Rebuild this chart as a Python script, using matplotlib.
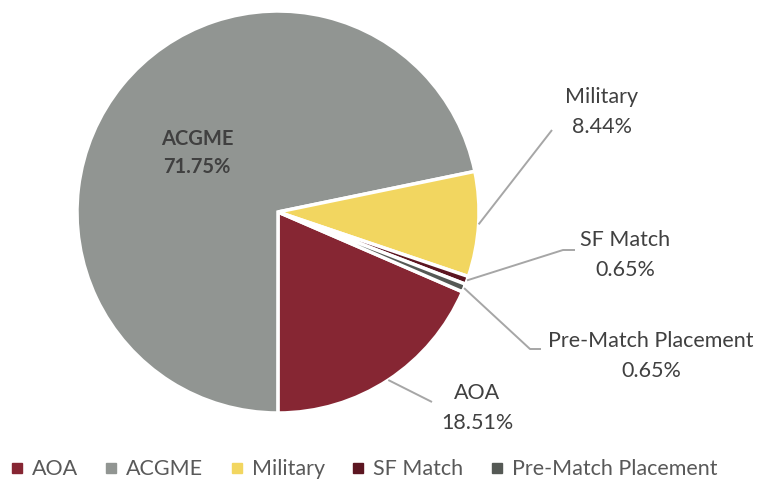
import numpy as np
import matplotlib
matplotlib.use("Agg")
import matplotlib.pyplot as plt

plt.rcParams['font.family'] = ['Lato', 'DejaVu Sans']

categories = ["AOA", "ACGME", "Military", "SF Match", "Pre-Match Placement"]
shares = [18.51, 71.75, 8.44, 0.65, 0.65]
colors = ["#862633", "#919592", "#F2D660", "#5C1621", "#555955"]
text_color = "#404040"

W, H = 760, 486
fig = plt.figure(figsize=(W / 100, H / 100), dpi=100)
ax = fig.add_axes([0, 0, 1, 1])

cx, cy, r = 278, H - 212, 201
wedges, _ = ax.pie(shares, colors=colors, startangle=-23.4, counterclock=False,
                   center=(cx, cy), radius=r, frame=True,
                   wedgeprops=dict(edgecolor='white', linewidth=2.5))
ax.set_xlim(0, W)
ax.set_ylim(0, H)
ax.set_aspect('equal')
ax.axis('off')

# ACGME label inside the slice
ax.text(197, H - 153, "ACGME\n{:.2f}%".format(shares[1]), ha='center', va='center',
        fontsize=14.5, fontweight='bold', color=text_color, linespacing=1.5)

# outside labels: index, text centre, leader end, elbow
outside = [
    (2, (602, 112), (552, 130), None),
    (3, (625, 255), (575, 250), (563, 250)),
    (4, (651, 356), (541, 349), (530, 349)),
    (0, (477, 408), (432, 402), None),
]
for i, (tx, ty), (ex, ey), elbow in outside:
    w = wedges[i]
    ang = np.deg2rad((w.theta1 + w.theta2) / 2)
    pts_x = [cx + r * np.cos(ang)]
    pts_y = [cy + r * np.sin(ang)]
    if elbow is not None:
        pts_x.append(elbow[0])
        pts_y.append(H - elbow[1])
    pts_x.append(ex)
    pts_y.append(H - ey)
    ax.plot(pts_x, pts_y, color='#A6A6A6', lw=1.4, solid_capstyle='butt')
    ax.text(tx, H - ty, "{}\n{:.2f}%".format(categories[i], shares[i]), ha='center',
            va='center', fontsize=15.5, color=text_color, linespacing=1.62)

handles = [plt.Line2D([], [], marker='s', ls='', color=c, markersize=6.5) for c in colors]
fig.legend(handles, categories, loc='lower center', bbox_to_anchor=(0.476, -0.026), ncol=5,
           frameon=False, fontsize=15.5, handletextpad=0.2, columnspacing=1.05,
           labelcolor='#595959', handlelength=1.0)

fig.savefig("out.png", dpi=100)
